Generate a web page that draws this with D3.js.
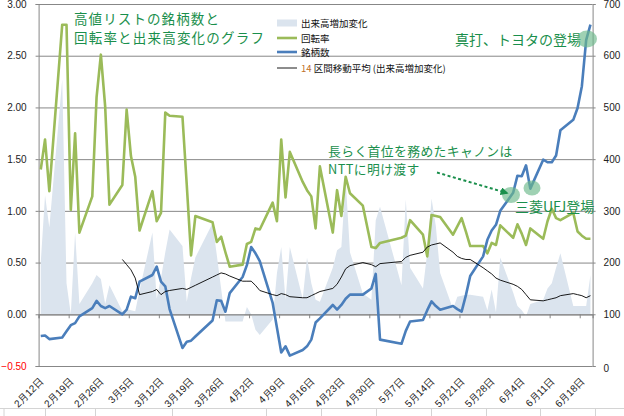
<!DOCTYPE html>
<html><head><meta charset="utf-8">
<script src="https://cdn.jsdelivr.net/npm/d3@7"></script>
<style>
body{margin:0;background:#fff;}
svg{display:block;font-family:"Noto Sans CJK JP","Noto Sans",sans-serif;}
</style>
</head><body>
<svg id="c" width="624" height="416"></svg>
<script>
// ---- data (2014 trading days) ----
const dates = [
 "2/12","2/13","2/14","2/17","2/18","2/19","2/20","2/21","2/24","2/25","2/26","2/27","2/28",
 "3/3","3/4","3/5","3/6","3/7","3/10","3/11","3/12","3/13","3/14","3/17","3/18","3/19","3/20","3/24","3/25","3/26","3/27","3/28","3/31",
 "4/1","4/2","4/3","4/4","4/7","4/8","4/9","4/10","4/11","4/14","4/15","4/16","4/17","4/18","4/21","4/22","4/23","4/24","4/25","4/28","4/30",
 "5/1","5/2","5/7","5/8","5/9","5/12","5/13","5/14","5/15","5/16","5/19","5/20","5/21","5/22","5/23","5/26","5/27","5/28","5/29","5/30",
 "6/2","6/3","6/4","6/5","6/6","6/9","6/10","6/11","6/12","6/13","6/16","6/17","6/18","6/19","6/20"];

// 回転率 (left axis)
const turnover = [
 1.40,1.69,1.19,2.80,2.80,1.01,1.75,0.79,1.14,2.10,2.51,2.01,1.06,
 1.25,1.98,1.53,1.33,0.81,1.19,0.90,0.98,1.95,1.92,1.91,1.25,0.57,0.95,0.89,0.70,0.75,0.60,0.46,0.48,
 0.68,0.70,0.83,0.82,1.08,0.90,1.69,1.13,1.57,1.28,1.20,1.14,0.83,1.43,0.79,1.20,0.95,1.33,1.17,1.05,0.65,
 0.64,0.69,0.74,0.76,0.91,0.77,0.56,0.96,0.95,0.94,0.77,0.85,0.93,0.80,0.66,0.66,0.59,0.69,0.67,0.86,
 0.74,0.87,0.78,0.67,0.83,0.73,0.90,1.02,0.93,0.91,0.98,0.80,0.76,0.73,0.73];

// 銘柄数 (right axis)
const stockCount = [
 58,59,52,55,67,79,83,96,112,126,116,112,116,
 100,109,134,131,163,176,192,163,154,110,35,47,49,57,88,127,126,105,141,172,
 195,230,218,203,122,74,26,38,20,31,38,51,84,92,118,109,118,130,138,138,150,
 178,51,43,68,86,89,108,125,116,109,116,110,105,137,174,212,244,262,273,300,
 335,368,367,388,343,399,394,394,407,456,476,499,541,630,660];

// 出来高増加変化 (left axis, area)
const volumeChange = [
 0.50,1.15,0.84,2.27,0.30,0.00,0.79,0.10,0.30,0.38,0.34,0.10,0.28,
 0.03,0.05,0.04,0.03,0.23,0.79,0.15,0.35,0.60,0.82,0.66,0.12,0.35,0.55,0.88,0.57,0.25,-0.07,-0.07,-0.07,
 0.07,0.00,-0.15,-0.20,-0.05,0.40,0.65,0.14,0.65,0.15,0.55,0.30,0.14,0.12,0.45,0.62,0.65,1.30,0.60,0.20,0.14,
 0.91,1.04,0.28,1.11,0.45,0.25,0.60,1.12,0.85,0.40,0.05,0.17,0.18,0.19,0.19,0.17,0.04,0.24,0.02,0.55,
 0.21,0.08,0.04,-0.02,0.10,0.14,0.25,0.30,0.45,0.59,0.08,0.08,0.08,0.08,0.38];

// 14区間移動平均 (出来高増加変化)
const movingAvg14 = [
 null,null,null,null,null,null,null,null,null,null,null,null,null,
 0.53,0.48,0.43,0.35,0.19,0.22,0.24,0.19,0.22,0.23,0.25,0.24,0.26,0.28,0.36,0.38,0.40,0.39,0.37,0.32,
 0.32,0.32,0.28,0.23,0.19,0.18,0.20,0.19,0.17,0.16,0.16,0.18,0.20,0.22,0.25,0.29,0.36,0.44,0.47,0.50,0.48,
 0.46,0.49,0.51,0.55,0.57,0.60,0.65,0.67,0.68,0.69,0.60,0.56,0.54,0.53,0.53,0.45,0.42,0.39,0.35,0.33,
 0.29,0.27,0.24,0.19,0.14,0.13,0.14,0.15,0.16,0.18,0.20,0.19,0.18,0.16,0.18];

const leftTicks = [-0.5,0,0.5,1,1.5,2,2.5,3];
const rightTicks = [0,100,200,300,400,500,600,700];
const dateTickLabels = ["2/12","2/19","2/26","3/5","3/12","3/19","3/26","4/2","4/9","4/16","4/23","4/30","5/7","5/14","5/21","5/28","6/4","6/11","6/18"];

const legendNames = ["出来高増加変化","回転率","銘柄数","区間移動平均 (出来高増加変化)"];

// ---- scales ----
const YEAR = 2014;
const parse = s => { const [m,d] = s.split("/").map(Number); return new Date(YEAR, m-1, d); };
const HALF = 12*3600*1000;
const L = 38.6, R = 592.6, T = 4, B = 366;
const x = d3.scaleTime().domain([new Date(YEAR,1,12), new Date(YEAR,5,21)]).range([L, R]);
const xc = s => x(new Date(parse(s).getTime() + HALF));
const yL = d3.scaleLinear().domain([-0.5, 3]).range([B, T]);
const yR = d3.scaleLinear().domain([0, 700]).range([B, T]);

const svg = d3.select("#c");
const GRID = "#878787";
const C_AREA = "#dbe4ee", C_GREEN = "#9bbb59", C_BLUE = "#4a7ebb", C_TXT = "#1a8f4c";

// spreadsheet cell lines below chart
const cellG = svg.append("g").attr("stroke","#d4d4d4").attr("stroke-width",1);
cellG.append("line").attr("x1",0).attr("x2",624).attr("y1",408.5).attr("y2",408.5);
[4,45.5,95.5,172.5,266.5,321.5,376.5,431.5,486.5,540.5,595.5].forEach(v=>{
  cellG.append("line").attr("x1",v).attr("x2",v).attr("y1",408.5).attr("y2",416);
});

// gridlines
svg.append("g").attr("transform",`translate(${L},0)`)
  .call(d3.axisLeft(yL).tickValues(leftTicks).tickSize(-(R-L)).tickFormat(""))
  .call(g=>{ g.select(".domain").remove(); g.selectAll("line").attr("stroke",GRID).attr("stroke-width",1); });

// area
const area = d3.area()
  .x((d,i)=>xc(dates[i]))
  .y0(yL(0))
  .y1(d=>yL(d));
svg.append("path").datum(volumeChange).attr("d",area).attr("fill",C_AREA).attr("stroke","none");

// left axis
svg.append("g").attr("transform",`translate(${L},0)`)
  .call(d3.axisLeft(yL).tickValues(leftTicks).tickSize(3).tickPadding(9).tickFormat(d3.format(".2f")))
  .call(g=>{
    g.select(".domain").attr("stroke",GRID);
    g.selectAll("line").attr("stroke",GRID);
    g.selectAll("text").attr("font-size",10).attr("fill","#222")
      .attr("font-family","Liberation Sans, Arial, sans-serif");
    g.selectAll("text").filter(d=>d<0).attr("fill","#ff0000");
  });

// right axis
svg.append("g").attr("transform",`translate(${R},0)`)
  .call(d3.axisRight(yR).tickValues(rightTicks).tickSize(3).tickPadding(8))
  .call(g=>{
    g.select(".domain").attr("stroke",GRID);
    g.selectAll("line").attr("stroke",GRID);
    g.selectAll("text").attr("font-size",10).attr("fill","#222")
      .attr("font-family","Liberation Sans, Arial, sans-serif");
    g.selectAll("text").filter(d=>d===0).attr("dy","0.55em");
  });

// bottom (date) axis crossing at 0
svg.append("g").attr("transform",`translate(0,${yL(0)})`)
  .call(d3.axisBottom(x).tickValues(dateTickLabels.map(parse)).tickSize(4)
        .tickFormat(d=>`${d.getMonth()+1}月${d.getDate()}日`))
  .call(g=>{
    g.select(".domain").attr("stroke",GRID).attr("stroke-width",1.2);
    g.selectAll("line").attr("stroke",GRID);
    g.selectAll("text").attr("font-size",10).attr("fill","#222")
      .attr("x",0).attr("y",0).attr("dy",0)
      .attr("text-anchor","end")
      .attr("transform",`translate(5,${382 - yL(0)}) rotate(-45)`);
  });

// lines
const lineL = d3.line().defined(d=>d!=null).x((d,i)=>xc(dates[i])).y(d=>yL(d));
const lineR = d3.line().x((d,i)=>xc(dates[i])).y(d=>yR(d));
svg.append("path").datum(turnover).attr("d",lineL).attr("fill","none")
  .attr("stroke",C_GREEN).attr("stroke-width",2.6).attr("stroke-linejoin","round");
svg.append("path").datum(stockCount).attr("d",lineR).attr("fill","none")
  .attr("stroke",C_BLUE).attr("stroke-width",2.6).attr("stroke-linejoin","round");
svg.append("path").datum(movingAvg14).attr("d",lineL).attr("fill","none")
  .attr("stroke","#000").attr("stroke-width",0.9);

// legend
const lg = svg.append("g").attr("font-size",9.5).attr("fill","#111");
const lx = 277, rows = [23,38,52,68];
lg.append("rect").attr("x",lx).attr("y",rows[0]-3.5).attr("width",20).attr("height",7).attr("fill",C_AREA);
lg.append("line").attr("x1",lx).attr("x2",lx+20).attr("y1",rows[1]).attr("y2",rows[1]).attr("stroke",C_GREEN).attr("stroke-width",2.6);
lg.append("line").attr("x1",lx).attr("x2",lx+20).attr("y1",rows[2]).attr("y2",rows[2]).attr("stroke",C_BLUE).attr("stroke-width",2.6);
lg.append("line").attr("x1",lx).attr("x2",lx+20).attr("y1",rows[3]).attr("y2",rows[3]).attr("stroke","#000").attr("stroke-width",0.9);
[0,1,2].forEach(i=>lg.append("text").attr("x",lx+24).attr("y",rows[i]+3.5).text(legendNames[i]));
const t4 = lg.append("text").attr("x",lx+24).attr("y",rows[3]+3.5);
t4.append("tspan").attr("fill","#c0702a").text("14 ");
t4.append("tspan").text(legendNames[3]);

// title & annotations
const ann = svg.append("g").attr("fill",C_TXT);
ann.append("text").attr("x",74).attr("y",23.5).attr("font-size",13.5).attr("letter-spacing",1.1).text("高値リストの銘柄数と");
ann.append("text").attr("x",74).attr("y",43.3).attr("font-size",13.5).attr("letter-spacing",1.2).text("回転率と出来高変化のグラフ");

const circ = svg.append("g").attr("fill","#6bb88a").attr("fill-opacity",0.65);
circ.append("ellipse").attr("cx",587).attr("cy",39).attr("rx",10).attr("ry",8.5);
circ.append("ellipse").attr("cx",511).attr("cy",195).attr("rx",9).attr("ry",8);
circ.append("ellipse").attr("cx",532).attr("cy",188).attr("rx",8.5).attr("ry",7.5);

ann.append("text").attr("x",455).attr("y",45).attr("font-size",14).text("真打、トヨタの登場");
ann.append("text").attr("x",328).attr("y",155.5).attr("font-size",12.8).attr("letter-spacing",0.4).text("長らく首位を務めたキャノンは");
ann.append("text").attr("x",328).attr("y",174.3).attr("font-size",12.8).attr("letter-spacing",0.4).text("NTTに明け渡す");
ann.append("text").attr("x",515).attr("y",212).attr("font-size",14).text("三菱UFJ登場");

svg.append("defs").append("marker").attr("id","ah").attr("viewBox","0 0 10 10")
  .attr("refX",8).attr("refY",5).attr("markerWidth",4).attr("markerHeight",4).attr("orient","auto")
  .append("path").attr("d","M0,0L10,5L0,10z").attr("fill",C_TXT);
svg.append("line").attr("x1",437).attr("y1",172.5).attr("x2",507).attr("y2",193)
  .attr("stroke",C_TXT).attr("stroke-width",2).attr("stroke-dasharray","3,2.5")
  .attr("marker-end","url(#ah)");
</script>
</body></html>
